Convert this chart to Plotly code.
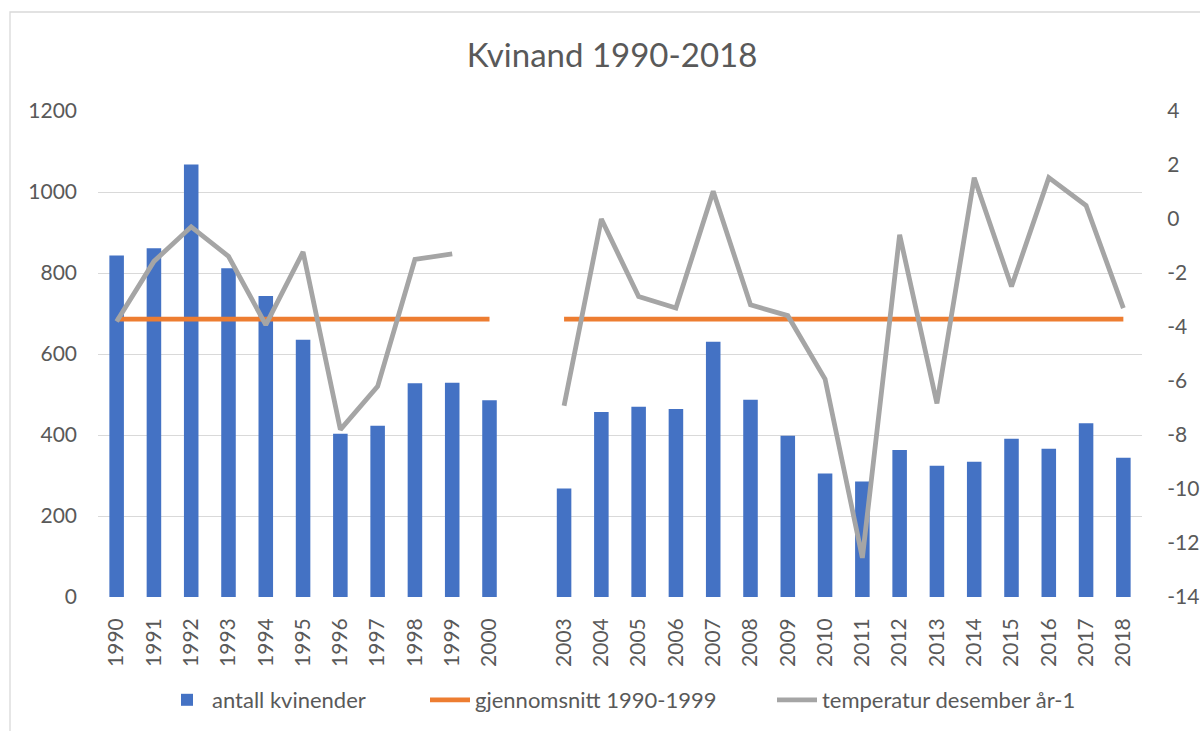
import plotly.graph_objects as go

categories = ["1990", "1991", "1992", "1993", "1994", "1995", "1996", "1997", "1998", "1999", "2000", " ",
              "2003", "2004", "2005", "2006", "2007", "2008", "2009", "2010", "2011", "2012", "2013", "2014",
              "2015", "2016", "2017", "2018"]

antall_kvinender = [843, 861, 1068, 812, 743, 635, 403, 423, 528, 529, 486, None,
                    268, 457, 470, 464, 630, 487, 398, 305, 285, 363, 324, 334,
                    391, 366, 429, 344]

gjennomsnitt = [686, 686, 686, 686, 686, 686, 686, 686, 686, 686, 686, None,
                686, 686, 686, 686, 686, 686, 686, 686, 686, 686, 686, 686,
                686, 686, 686, 686]

temperatur = [-3.8, -1.57, -0.29, -1.38, -3.92, -1.22, -7.8, -6.2, -1.5, -1.29, None, None,
              -6.92, 0.0, -2.87, -3.3, 1.03, -3.18, -3.58, -5.93, -12.55, -0.58, -6.83, 1.53,
              -2.5, 1.53, 0.5, -3.3]

left_ticks = [0, 200, 400, 600, 800, 1000, 1200]
right_ticks = [-14, -12, -10, -8, -6, -4, -2, 0, 2, 4]
right_ticktext = [str(v) for v in right_ticks]
x_ticks = [c for c in categories if c.strip()]

FONT = "Lato"
TXT = "#595959"
GRID = "#d9d9d9"

L, R, T, B = 98, 58, 111, 134
W, H = 1200, 731
pw, ph = W - L - R, H - T - B


def px_x(p):
    return (p - L) / pw


def px_y(p):
    return (H - B - p) / ph


fig = go.Figure()
fig.add_trace(go.Bar(x=categories, y=antall_kvinender, name="antall kvinender", legend="legend",
                     marker=dict(color="#4472C4", line=dict(width=0))))
fig.add_trace(go.Scatter(x=categories, y=gjennomsnitt, name="gjennomsnitt 1990-1999", legend="legend2",
                         mode="lines", connectgaps=False,
                         line=dict(color="#ED7D31", width=4.8)))
fig.add_trace(go.Scatter(x=categories, y=temperatur, name="temperatur desember år-1", legend="legend3",
                         mode="lines", connectgaps=False, yaxis="y2",
                         line=dict(color="#A5A5A5", width=4.8)))


def leg(text_start):
    return dict(orientation="h", x=px_x(text_start - 48), xanchor="left", y=px_y(700), yanchor="middle",
                font=dict(family=FONT, size=22, color=TXT), bgcolor="rgba(0,0,0,0)",
                itemwidth=40)


fig.update_layout(
    width=W, height=H,
    margin=dict(l=L, r=R, t=T, b=B, autoexpand=False),
    paper_bgcolor="white", plot_bgcolor="white",
    font=dict(family=FONT, color=TXT, size=21),
    title=dict(text="Kvinand 1990-2018", x=612 / W, xref="container", xanchor="center",
               y=1 - 55 / H, yref="container", yanchor="middle",
               font=dict(family=FONT, size=33, color=TXT)),
    bargap=0.61,
    showlegend=True,
    legend=leg(210),
    legend2=leg(473),
    legend3=leg(820),
    xaxis=dict(type="category", categoryorder="array", categoryarray=categories,
               tickmode="array", tickvals=x_ticks, ticktext=x_ticks, automargin=False,
               tickangle=-90, showgrid=False, showline=False, zeroline=False,
               ticks="", ticklabelstandoff=16, tickfont=dict(size=21, color=TXT)),
    yaxis=dict(range=[0, 1200], tickmode="array", tickvals=left_ticks, automargin=False,
               showgrid=True, gridcolor=GRID, gridwidth=1.3, zeroline=False, showline=False,
               ticks="", ticklabelstandoff=20, tickfont=dict(size=21, color=TXT)),
    yaxis2=dict(range=[-14, 4], tickmode="array", tickvals=right_ticks, ticktext=right_ticktext,
                automargin=False, tickangle=0,
                overlaying="y", side="right", showgrid=False, zeroline=False, showline=False,
                ticks="outside", ticklen=20, tickcolor="rgba(0,0,0,0)",
                tickfont=dict(size=21, color=TXT)),
    shapes=[dict(type="rect", xref="paper", yref="paper",
                 x0=px_x(10), x1=px_x(1210), y0=px_y(745), y1=px_y(12),
                 line=dict(color=GRID, width=1.3), fillcolor="rgba(0,0,0,0)", layer="below")],
)

fig.write_html("out.html", config={"displayModeBar": False},
               post_script="document.body.style.margin='0';")
